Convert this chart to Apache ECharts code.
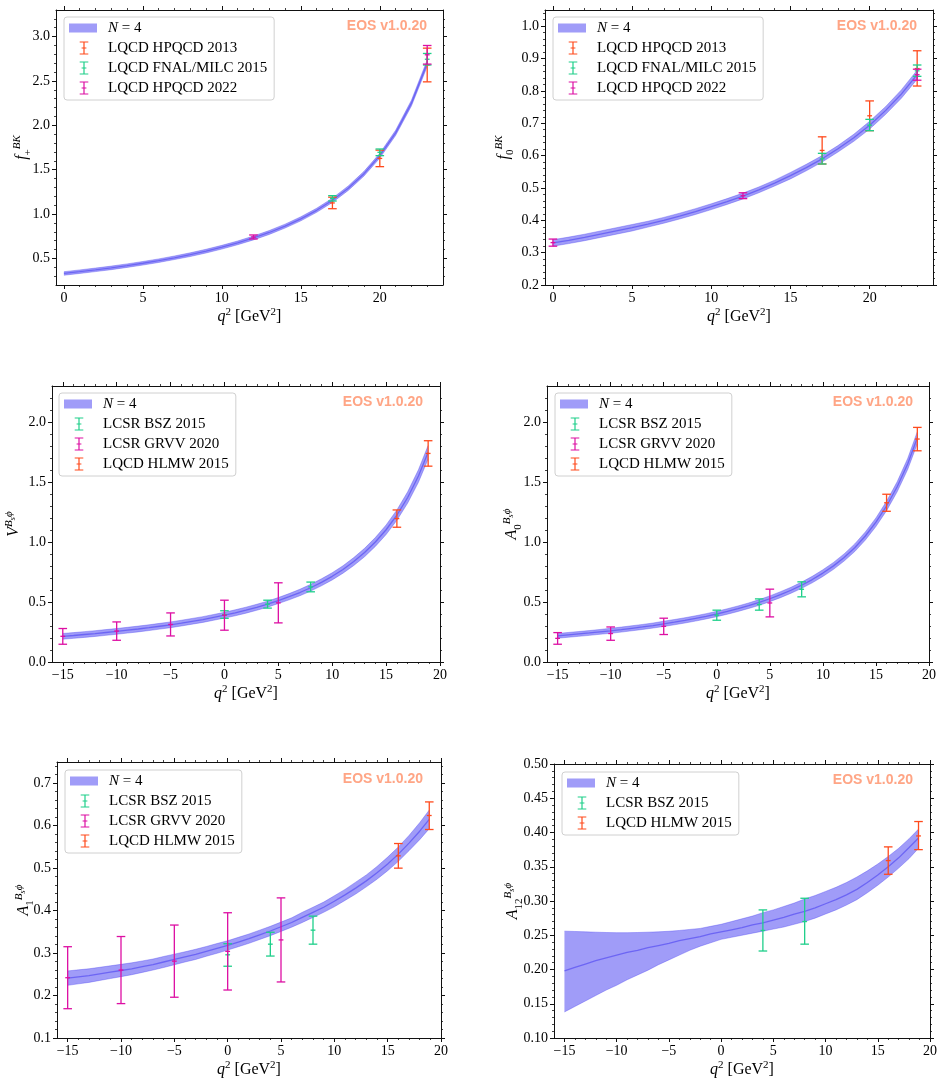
<!DOCTYPE html>
<html>
<head>
<meta charset="utf-8">
<script src="https://cdn.jsdelivr.net/npm/echarts@6/dist/echarts.min.js"></script>
<style>
  html, body { margin: 0; padding: 0; background: #fff; }
  #chart { width: 942px; height: 1087px; }
</style>
</head>
<body>
<div id="chart"></div>
<script>
// ---------- data ----------
// q^2 grids for the fitted bands
const qBK = [0, 1, 2, 3, 4, 5, 6, 7, 8, 9, 10, 11, 12, 13, 14, 15, 16, 17, 18, 19, 20, 21, 22, 23];
const qBsPhi = [-15, -14, -13, -12, -11, -10, -9, -8, -7, -6, -5, -4, -3, -2, -1, 0,
  1, 2, 3, 4, 5, 6, 7, 8, 9, 10, 11, 12, 13, 14, 15, 16, 17, 18, 18.9];

// f_+^{BK} band (central value and half width)
const fpMid = [0.330, 0.350, 0.371, 0.393, 0.418, 0.445, 0.474, 0.507, 0.542, 0.582, 0.626, 0.675,
  0.730, 0.792, 0.864, 0.946, 1.042, 1.155, 1.291, 1.455, 1.658, 1.915, 2.250, 2.700];
const fpErr = [0.020, 0.020, 0.020, 0.020, 0.020, 0.020, 0.020, 0.020, 0.021, 0.021, 0.021, 0.021,
  0.022, 0.022, 0.022, 0.023, 0.023, 0.024, 0.025, 0.026, 0.027, 0.029, 0.032, 0.036];

// f_0^{BK} band
const f0Mid = [0.330, 0.338, 0.347, 0.357, 0.367, 0.377, 0.388, 0.400, 0.413, 0.427, 0.442, 0.458,
  0.475, 0.494, 0.515, 0.538, 0.563, 0.590, 0.621, 0.655, 0.694, 0.739, 0.790, 0.850];
const f0Err = [0.010, 0.010, 0.010, 0.010, 0.010, 0.010, 0.009, 0.009, 0.009, 0.009, 0.009, 0.009,
  0.009, 0.009, 0.009, 0.010, 0.010, 0.010, 0.010, 0.011, 0.012, 0.012, 0.013, 0.014];

// V^{Bs phi} band
const vMid = [0.214, 0.221, 0.229, 0.237, 0.246, 0.255, 0.265, 0.275, 0.286, 0.298, 0.310, 0.324, 0.339, 0.354, 0.372, 0.390,
  0.410, 0.432, 0.456, 0.482, 0.512, 0.544, 0.579, 0.619, 0.664, 0.714, 0.771, 0.837, 0.912, 1.000, 1.102, 1.224, 1.371, 1.550, 1.748];
const vErr = [0.024, 0.024, 0.024, 0.024, 0.024, 0.024, 0.024, 0.024, 0.024, 0.024, 0.024, 0.024, 0.024, 0.024, 0.024, 0.024,
  0.025, 0.025, 0.025, 0.025, 0.025, 0.026, 0.027, 0.028, 0.029, 0.030, 0.031, 0.033, 0.035, 0.037, 0.040, 0.043, 0.047, 0.052, 0.057];

// A_0^{Bs phi} band
const a0Mid = [0.218, 0.226, 0.234, 0.242, 0.251, 0.260, 0.270, 0.281, 0.292, 0.304, 0.318, 0.332, 0.347, 0.363, 0.381, 0.400,
  0.421, 0.444, 0.469, 0.496, 0.527, 0.561, 0.598, 0.640, 0.687, 0.741, 0.801, 0.871, 0.952, 1.050, 1.165, 1.300, 1.460, 1.652, 1.869];
const a0Err = [0.020, 0.020, 0.020, 0.020, 0.020, 0.021, 0.021, 0.021, 0.021, 0.021, 0.022, 0.022, 0.022, 0.022, 0.022, 0.022,
  0.023, 0.023, 0.023, 0.024, 0.024, 0.025, 0.025, 0.026, 0.027, 0.028, 0.029, 0.030, 0.032, 0.034, 0.036, 0.039, 0.042, 0.046, 0.050];

// A_1^{Bs phi} band
const a1Mid = [0.241, 0.244, 0.247, 0.251, 0.255, 0.259, 0.263, 0.268, 0.273, 0.279, 0.285, 0.291, 0.297, 0.304, 0.311, 0.318,
  0.326, 0.334, 0.343, 0.352, 0.362, 0.372, 0.384, 0.396, 0.408, 0.422, 0.437, 0.453, 0.470, 0.489, 0.510, 0.533, 0.559, 0.587, 0.615];
const a1Err = [0.017, 0.0165, 0.016, 0.0155, 0.015, 0.0145, 0.014, 0.0135, 0.013, 0.013, 0.0125, 0.012, 0.012, 0.0115, 0.0115, 0.011,
  0.011, 0.011, 0.011, 0.011, 0.011, 0.011, 0.012, 0.012, 0.012, 0.013, 0.013, 0.014, 0.014, 0.015, 0.016, 0.017, 0.018, 0.020, 0.022];

// A_12^{Bs phi} band (central, lower, upper)
const a12Mid = [0.198, 0.203, 0.208, 0.213, 0.217, 0.221, 0.225, 0.228, 0.232, 0.235, 0.238, 0.242, 0.245, 0.248, 0.252, 0.255,
  0.258, 0.261, 0.265, 0.268, 0.272, 0.276, 0.281, 0.285, 0.290, 0.296, 0.302, 0.309, 0.317, 0.327, 0.338, 0.350, 0.363, 0.378, 0.392];
const a12Lo = [0.138, 0.146, 0.154, 0.162, 0.170, 0.177, 0.185, 0.192, 0.199, 0.207, 0.214, 0.221, 0.228, 0.234, 0.239, 0.244,
  0.247, 0.250, 0.253, 0.256, 0.259, 0.262, 0.266, 0.270, 0.275, 0.281, 0.287, 0.294, 0.302, 0.312, 0.323, 0.335, 0.348, 0.362, 0.377];
const a12Hi = [0.256, 0.2555, 0.255, 0.2545, 0.254, 0.2538, 0.2538, 0.254, 0.2545, 0.255, 0.2558, 0.257, 0.2585, 0.260, 0.263, 0.266,
  0.270, 0.274, 0.278, 0.283, 0.287, 0.292, 0.297, 0.303, 0.308, 0.314, 0.320, 0.327, 0.335, 0.344, 0.354, 0.365, 0.377, 0.391, 0.405];

// constraints: [q2, central, lower, upper]
const fpHPQCD13 = [[17, 1.125, 1.06, 1.19], [20, 1.627, 1.534, 1.72], [23, 2.68, 2.49, 2.87]];
const fpFNAL15 = [[17, 1.177, 1.147, 1.207], [20, 1.696, 1.658, 1.733], [23, 2.745, 2.68, 2.81]];
const fpHPQCD22 = [[12, 0.741, 0.719, 0.764], [23, 2.795, 2.69, 2.90]];

const f0HPQCD13 = [[17, 0.616, 0.574, 0.658], [20, 0.723, 0.677, 0.769], [23, 0.869, 0.815, 0.924]];
const f0FNAL15 = [[17, 0.590, 0.574, 0.607], [20, 0.694, 0.677, 0.712], [23, 0.862, 0.845, 0.880]];
const f0HPQCD22 = [[0, 0.331, 0.320, 0.342], [12, 0.476, 0.467, 0.485], [23, 0.850, 0.833, 0.867]];

const vBSZ = [[0, 0.396, 0.364, 0.427], [4, 0.482, 0.449, 0.515], [8, 0.626, 0.585, 0.666]];
const vGRVV = [[-15, 0.214, 0.148, 0.279], [-10, 0.258, 0.181, 0.334], [-5, 0.313, 0.217, 0.409], [0, 0.390, 0.265, 0.515], [5, 0.493, 0.326, 0.660]];
const vHLMW = [[16, 1.195, 1.123, 1.267], [18.9, 1.738, 1.632, 1.844]];

const a0BSZ = [[0, 0.390, 0.348, 0.432], [4, 0.479, 0.432, 0.526], [8, 0.606, 0.543, 0.668]];
const a0GRVV = [[-15, 0.197, 0.148, 0.245], [-10, 0.237, 0.181, 0.292], [-5, 0.297, 0.229, 0.365], [5, 0.492, 0.376, 0.607]];
const a0HLMW = [[16, 1.327, 1.256, 1.398], [18.9, 1.858, 1.760, 1.955]];

const a1BSZ = [[0, 0.296, 0.269, 0.322], [4, 0.321, 0.293, 0.349], [8, 0.354, 0.321, 0.387]];
const a1GRVV = [[-15, 0.242, 0.169, 0.315], [-10, 0.260, 0.181, 0.339], [-5, 0.281, 0.196, 0.366], [0, 0.304, 0.213, 0.395], [5, 0.331, 0.232, 0.430]];
const a1HLMW = [[16, 0.529, 0.500, 0.558], [18.9, 0.624, 0.591, 0.656]];

const a12BSZ = [[4, 0.257, 0.227, 0.287], [8, 0.270, 0.237, 0.304]];
const a12HLMW = [[16, 0.359, 0.339, 0.379], [18.9, 0.395, 0.375, 0.416]];

// tick labels
const xTicksBK = [0, 5, 10, 15, 20];
const xTicksBsPhi = [-15, -10, -5, 0, 5, 10, 15, 20];
const yTicksFp = [0.5, 1.0, 1.5, 2.0, 2.5, 3.0];
const yTicksF0 = [0.2, 0.3, 0.4, 0.5, 0.6, 0.7, 0.8, 0.9, 1.0];
const yTicksV = [0, 0.5, 1.0, 1.5, 2.0];
const yTicksA1 = [0.1, 0.2, 0.3, 0.4, 0.5, 0.6, 0.7];
const yTicksA12 = [0.10, 0.15, 0.20, 0.25, 0.30, 0.35, 0.40, 0.45, 0.50];

// ---------- styles ----------
const SERIF = '"Liberation Serif", "DejaVu Serif", serif';
const BAND_FILL = 'rgba(65,57,241,0.5)';
const BAND_EDGE = 'rgba(65,57,241,0.35)';
const BAND_LINE = 'rgba(65,57,241,0.55)';
const C_LQCD = '#ff4a1c';
const C_BSZ = '#1ecf8a';
const C_GRVV = '#dd0fa3';
const AXIS = '#111';

const colorOf = {
  'N = 4': BAND_FILL,
  'LQCD HPQCD 2013': C_LQCD,
  'LQCD FNAL/MILC 2015': C_BSZ,
  'LQCD HPQCD 2022': C_GRVV,
  'LCSR BSZ 2015': C_BSZ,
  'LCSR GRVV 2020': C_GRVV,
  'LQCD HLMW 2015': C_LQCD
};

const ICON_BAND = 'path://M0,0h0.01v0.01h-0.01zM33.99,15.99h0.01v0.01h-0.01zM0,3.5h28v9h-28z';
const ICON_ERR = 'path://M0,0h0.01v0.01h-0.01zM33.99,15.99h0.01v0.01h-0.01z' +
  'M14.4,2h1.2v12h-1.2zM10.7,1.4h8.6v1.2h-8.6zM10.7,13.4h8.6v1.2h-8.6zM12.6,7.4h4.8v1.2h-4.8z';

const richMath = {
  i: { fontFamily: SERIF, fontStyle: 'italic', fontSize: 16, lineHeight: 24 },
  r: { fontFamily: SERIF, fontSize: 16, lineHeight: 24 },
  sup: { fontFamily: SERIF, fontSize: 11, verticalAlign: 'top', padding: [2, 0, 0, 0] },
  supi: { fontFamily: SERIF, fontSize: 11, fontStyle: 'italic', verticalAlign: 'top', padding: [2, 0, 0, 0] },
  sub: { fontFamily: SERIF, fontSize: 11, verticalAlign: 'bottom' },
  ss: { fontFamily: SERIF, fontSize: 8, fontStyle: 'italic', verticalAlign: 'top', padding: [7, 0, 0, 0] }
};

function bandOf(mid, err) {
  return {
    lo: mid.map((m, k) => +(m - err[k]).toFixed(4)),
    hi: mid.map((m, k) => +(m + err[k]).toFixed(4))
  };
}
const fpBand = bandOf(fpMid, fpErr);
const f0Band = bandOf(f0Mid, f0Err);
const vBand = bandOf(vMid, vErr);
const a0Band = bandOf(a0Mid, a0Err);
const a1Band = bandOf(a1Mid, a1Err);

const panels = [
  {
    grid: [56, 10, 387, 275], x: [-0.5, 24], xSplit: 5, xTicks: xTicksBK,
    y: [0.2, 3.3], yInterval: null, yTicks: yTicksFp, yDec: 1,
    yName: '{i|f}{sub|+}{supi|BK}', yGap: 22, legend: [64, 17], eos: [427, 26],
    q: qBK, mid: fpMid, lo: fpBand.lo, hi: fpBand.hi,
    sets: [['LQCD HPQCD 2013', fpHPQCD13], ['LQCD FNAL/MILC 2015', fpFNAL15], ['LQCD HPQCD 2022', fpHPQCD22]]
  },
  {
    grid: [545, 10, 388, 275], x: [-0.5, 24], xSplit: 5, xTicks: xTicksBK,
    y: [0.2, 1.05], yInterval: 0.1, yTicks: yTicksF0, yDec: 1,
    yName: '{i|f}{sub|0}{supi|BK}', yGap: 29, legend: [553, 17], eos: [917, 26],
    q: qBK, mid: f0Mid, lo: f0Band.lo, hi: f0Band.hi,
    sets: [['LQCD HPQCD 2013', f0HPQCD13], ['LQCD FNAL/MILC 2015', f0FNAL15], ['LQCD HPQCD 2022', f0HPQCD22]]
  },
  {
    grid: [52, 386, 388, 276], x: [-16, 20], xSplit: 7, xTicks: xTicksBsPhi,
    y: [0, 2.3], yInterval: 0.5, yTicks: yTicksV, yDec: 1,
    yName: '{i|V}{supi|B}{ss|s}{supi|ϕ}', yGap: 26, legend: [59, 393], eos: [423, 402],
    q: qBsPhi, mid: vMid, lo: vBand.lo, hi: vBand.hi,
    sets: [['LCSR BSZ 2015', vBSZ], ['LCSR GRVV 2020', vGRVV], ['LQCD HLMW 2015', vHLMW]]
  },
  {
    grid: [547, 386, 382, 276], x: [-16, 20], xSplit: 7, xTicks: xTicksBsPhi,
    y: [0, 2.3], yInterval: 0.5, yTicks: yTicksV, yDec: 1,
    yName: '{i|A}{sub|0}{supi|B}{ss|s}{supi|ϕ}', yGap: 23, legend: [555, 393], eos: [913, 402],
    q: qBsPhi, mid: a0Mid, lo: a0Band.lo, hi: a0Band.hi,
    sets: [['LCSR BSZ 2015', a0BSZ], ['LCSR GRVV 2020', a0GRVV], ['LQCD HLMW 2015', a0HLMW]]
  },
  {
    grid: [57, 762, 384, 276], x: [-16, 20], xSplit: 7, xTicks: xTicksBsPhi,
    y: [0.1, 0.75], yInterval: 0.1, yTicks: yTicksA1, yDec: 1,
    yName: '{i|A}{sub|1}{supi|B}{ss|s}{supi|ϕ}', yGap: 21, legend: [65, 770], eos: [423, 779],
    q: qBsPhi, mid: a1Mid, lo: a1Band.lo, hi: a1Band.hi,
    sets: [['LCSR BSZ 2015', a1BSZ], ['LCSR GRVV 2020', a1GRVV], ['LQCD HLMW 2015', a1HLMW]]
  },
  {
    grid: [554, 764, 376, 274], x: [-16, 20], xSplit: 7, xTicks: xTicksBsPhi,
    y: [0.1, 0.5], yInterval: 0.05, yTicks: yTicksA12, yDec: 2,
    yName: '{i|A}{sub|12}{supi|B}{ss|s}{supi|ϕ}', yGap: 29, legend: [562, 772], eos: [913, 780],
    q: qBsPhi, mid: a12Mid, lo: a12Lo, hi: a12Hi,
    sets: [['LCSR BSZ 2015', a12BSZ], ['LQCD HLMW 2015', a12HLMW]]
  }
];

// ---------- renderers ----------
function bandRenderer(xs, lo, hi) {
  return function (params, api) {
    if (params.dataIndex !== 0) return null;
    const up = xs.map((x, k) => api.coord([x, hi[k]]));
    const dn = xs.map((x, k) => api.coord([x, lo[k]]));
    const edge = { fill: 'none', stroke: BAND_EDGE, lineWidth: 1 };
    return {
      type: 'group',
      children: [
        { type: 'polygon', shape: { points: up.concat(dn.slice().reverse()) }, style: { fill: BAND_FILL } },
        { type: 'polyline', shape: { points: up }, style: edge },
        { type: 'polyline', shape: { points: dn }, style: edge }
      ]
    };
  };
}

function errRenderer(params, api) {
  const x = api.value(0);
  const c = api.coord([x, api.value(1)]);
  const lo = api.coord([x, api.value(2)]);
  const hi = api.coord([x, api.value(3)]);
  const st = { stroke: api.visual('color'), lineWidth: 1.3, fill: 'none' };
  const seg = (x1, y1, x2, y2) => ({ type: 'line', shape: { x1, y1, x2, y2 }, style: st });
  return {
    type: 'group',
    children: [
      seg(c[0], hi[1], c[0], lo[1]),
      seg(c[0] - 4.3, hi[1], c[0] + 4.3, hi[1]),
      seg(c[0] - 4.3, lo[1], c[0] + 4.3, lo[1]),
      seg(c[0] - 2.4, c[1], c[0] + 2.4, c[1])
    ]
  };
}

function fmt(dec) {
  return function (v) {
    return (v < 0 ? '\u2212' : '') + Math.abs(v).toFixed(dec);
  };
}

// ---------- option ----------
const grid = [], xAxis = [], yAxis = [], series = [], legend = [], graphic = [];

const axisLine = { show: true, onZero: false, lineStyle: { color: AXIS, width: 1 } };
const minorTick = { show: true, splitNumber: 5, length: 2, lineStyle: { color: AXIS, width: 0.8 } };
function axisTick(vals) {
  return { show: true, inside: false, length: 4, customValues: vals, lineStyle: { color: AXIS, width: 1 } };
}

panels.forEach((p, i) => {
  grid.push({ left: p.grid[0], top: p.grid[1], width: p.grid[2], height: p.grid[3], containLabel: false });

  const xBase = {
    type: 'value', gridIndex: i, min: p.x[0], max: p.x[1], splitNumber: p.xSplit,
    axisLine: axisLine, axisTick: axisTick(p.xTicks), minorTick: minorTick,
    splitLine: { show: false }, minorSplitLine: { show: false }
  };
  xAxis.push(Object.assign({}, xBase, {
    position: 'bottom',
    axisLabel: {
      customValues: p.xTicks, formatter: fmt(0), margin: 6,
      fontFamily: SERIF, fontSize: 14, color: '#000'
    },
    name: '{i|q}{sup|2}{r| [GeV}{sup|2}{r|]}', nameLocation: 'middle', nameGap: 20, nameMoveOverlap: false,
    nameTextStyle: { fontFamily: SERIF, fontSize: 16, lineHeight: 24, color: '#000', rich: richMath }
  }));
  xAxis.push(Object.assign({}, xBase, { position: 'top', axisLabel: { show: false } }));

  const yBase = {
    type: 'value', gridIndex: i, min: p.y[0], max: p.y[1],
    axisLine: axisLine, axisTick: axisTick(p.yTicks), minorTick: minorTick,
    splitLine: { show: false }, minorSplitLine: { show: false }
  };
  if (p.yInterval) yBase.interval = p.yInterval;
  yAxis.push(Object.assign({}, yBase, {
    position: 'left',
    axisLabel: {
      customValues: p.yTicks, formatter: fmt(p.yDec), margin: 6,
      fontFamily: SERIF, fontSize: 14, color: '#000'
    },
    name: p.yName, nameLocation: 'middle', nameGap: p.yGap, nameMoveOverlap: false,
    nameTextStyle: { fontFamily: SERIF, fontSize: 16, lineHeight: 24, color: '#000', rich: richMath }
  }));
  yAxis.push(Object.assign({}, yBase, { position: 'right', axisLabel: { show: false } }));

  const xi = 2 * i, yi = 2 * i;

  series.push({
    type: 'custom', name: 'N = 4', xAxisIndex: xi, yAxisIndex: yi, z: 2, silent: true,
    itemStyle: { color: BAND_FILL },
    renderItem: bandRenderer(p.q, p.lo, p.hi),
    encode: { x: 0, y: [1, 2] },
    data: p.q.map((x, k) => [x, p.lo[k], p.hi[k]])
  });
  series.push({
    type: 'line', name: 'N = 4', xAxisIndex: xi, yAxisIndex: yi, z: 3, silent: true,
    showSymbol: false, symbol: 'none',
    lineStyle: { color: BAND_LINE, width: 1.3 }, itemStyle: { color: BAND_FILL },
    data: p.q.map((x, k) => [x, p.mid[k]])
  });
  p.sets.forEach(([name, pts]) => {
    series.push({
      type: 'custom', name: name, xAxisIndex: xi, yAxisIndex: yi, z: 4, silent: true,
      itemStyle: { color: colorOf[name] },
      renderItem: errRenderer,
      encode: { x: 0, y: [1, 2, 3] },
      data: pts
    });
  });

  const names = ['N = 4'].concat(p.sets.map(s => s[0]));
  legend.push({
    orient: 'vertical', left: p.legend[0], top: p.legend[1],
    itemWidth: 34, itemHeight: 16, itemGap: 4, padding: [3, 7, 4, 5],
    backgroundColor: 'rgba(255,255,255,0.8)', borderColor: '#d0d0d0', borderWidth: 1, borderRadius: 3,
    selectedMode: false,
    textStyle: {
      fontFamily: SERIF, fontSize: 15, lineHeight: 16, color: '#000',
      rich: { i: { fontFamily: SERIF, fontStyle: 'italic', fontSize: 15, lineHeight: 16, color: '#000' } }
    },
    formatter: n => (n === 'N = 4' ? '{i|N} = 4' : n),
    data: names.map(n => ({
      name: n, icon: n === 'N = 4' ? ICON_BAND : ICON_ERR,
      itemStyle: { color: colorOf[n], borderWidth: 0 }
    }))
  });

  graphic.push({
    type: 'text', x: p.eos[0], y: p.eos[1], z: 10,
    style: {
      text: 'EOS v1.0.20', fill: '#ffa585', align: 'right', verticalAlign: 'middle',
      font: 'bold 14px "Liberation Sans", Arial, sans-serif'
    }
  });
});

const chart = echarts.init(document.getElementById('chart'), null, { renderer: 'canvas' });
chart.setOption({
  animation: false,
  backgroundColor: '#fff',
  grid, xAxis, yAxis, series, legend, graphic
});
</script>
</body>
</html>
